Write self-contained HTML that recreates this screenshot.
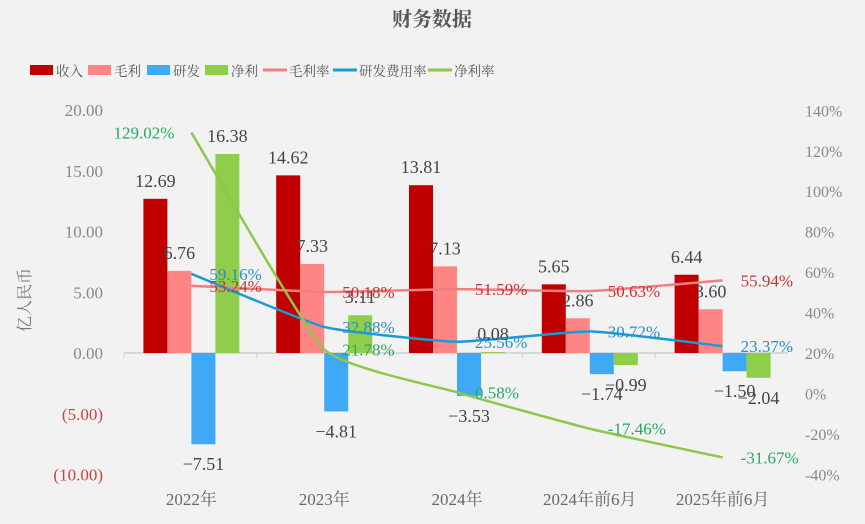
<!DOCTYPE html>
<html><head><meta charset="utf-8">
<style>
body{margin:0;background:#f2f2f2;}
svg{display:block;font-family:"Liberation Serif","Noto Serif CJK SC",serif;}
</style></head>
<body>
<svg id="chart" width="865" height="524" viewBox="0 0 865 524">
<rect width="865" height="524" fill="#f2f2f2"/>
<text x="432" y="26" text-anchor="middle" font-size="20" font-weight="bold" fill="#555">财务数据</text>
<g id="legend"></g>
<g id="axes"></g>
<g id="bars"></g>
<g id="lines"></g>
<g id="labels"></g>
</svg>
<script>
const categories=["2022年","2023年","2024年","2024年前6月","2025年前6月"];
const revenue=[12.69,14.62,13.81,5.65,6.44];
const grossProfit=[6.76,7.33,7.13,2.86,3.60];
const rnd=[-7.51,-4.81,-3.53,-1.74,-1.50];
const netProfit=[16.38,3.11,0.08,-0.99,-2.04];
const grossMargin=[53.24,50.18,51.59,50.63,55.94];
const rndRate=[59.16,32.88,25.56,30.72,23.37];
const netMargin=[129.02,21.78,0.58,-17.46,-31.67];
const leftTicks=[20,15,10,5,0,-5,-10];
const leftTickLabels=["20.00","15.00","10.00","5.00","0.00","(5.00)","(10.00)"];
const rightTicks=[140,120,100,80,60,40,20,0,-20,-40];

const NS="http://www.w3.org/2000/svg";
const svg=document.getElementById('chart');
function el(tag,attrs,parent,text){const e=document.createElementNS(NS,tag);for(const k in attrs)e.setAttribute(k,attrs[k]);if(text!==undefined)e.textContent=text;(parent||svg).appendChild(e);return e;}
const yL=v=>353-v*12.15;
const yR=p=>353-(p-20)*2.022;
const plotL=124,plotR=788,cw=(plotR-plotL)/categories.length;
const xC=i=>plotL+cw*(i+0.5)+1;
const bw=24;
const C={rev:"#c00000",gp:"#ff8585",rd:"#3fa9f5",np:"#8fce4a",gm:"#f08080",rr:"#1a9bd7",nm:"#8cc84b"};

const lg=document.getElementById('legend');
const legendItems=[["收入",C.rev,"box",30],["毛利",C.gp,"box",88],["研发",C.rd,"box",147],["净利",C.np,"box",205],["毛利率",C.gm,"line",263],["研发费用率",C.rr,"line",333],["净利率",C.nm,"line",428]];
legendItems.forEach(it=>{
  const g=el('g',{},lg);
  
  
  if(it[2]==="box")el('rect',{x:it[3],y:65,width:23,height:10,fill:it[1]},g);
  else el('rect',{x:it[3],y:68.5,width:24,height:3,fill:it[1]},g);
  el('text',{x:it[3]+26,y:76,'font-size':13.5,fill:'#555'},g,it[0]);
});

const ax=document.getElementById('axes');

leftTicks.forEach((v,i)=>{
  const t=el('text',{x:103,y:yL(v)+6,'text-anchor':'end','font-size':17,fill:v<0?'#d04040':'#888'},ax,leftTickLabels[i]);
  
});
rightTicks.forEach(v=>{
  const t=el('text',{x:805,y:yR(v)+6,'font-size':16,fill:'#888'},ax,v+'%');
  
});
const yt=el('text',{x:0,y:0,'font-size':16,fill:'#777',transform:'translate(30 300) rotate(-90)','text-anchor':'middle'},ax,'亿人民币');

el('line',{x1:plotL,x2:plotR,y1:yL(0),y2:yL(0),stroke:'#d0d0d0','stroke-width':1.5},ax);
categories.forEach((c,i)=>{
  el('line',{x1:plotL+cw*i,x2:plotL+cw*i,y1:yL(0),y2:yL(0)+5,stroke:'#d0d0d0'},ax);
  const t=el('text',{x:xC(i),y:505,'text-anchor':'middle','font-size':17,fill:'#666'},ax,c);
  
});

const bg=document.getElementById('bars');
const lb=document.getElementById('labels');
const series=[[revenue,C.rev,'revenue'],[grossProfit,C.gp,'gross-profit'],[rnd,C.rd,'rnd'],[netProfit,C.np,'net-profit']];
series.forEach((s,si)=>{
  s[0].forEach((v,i)=>{
    const x=xC(i)-2*bw+si*bw;
    const y0=yL(0),y1=yL(v);
    const r=el('rect',{x:x,y:Math.min(y0,y1),width:bw,height:Math.abs(y1-y0),fill:s[1]},bg);
    
    
    const ly=v>=0?y1-12:y1+26;
    const t=el('text',{x:x+bw/2,y:ly,'text-anchor':'middle','font-size':18,fill:'#444'},lb,(v<0?'−':'')+Math.abs(v).toFixed(2));
    
  });
});

function smooth(pts){
  let d='M'+pts[0][0]+','+pts[0][1];
  for(let i=0;i<pts.length-1;i++){
    const p0=pts[i-1]||pts[i],p1=pts[i],p2=pts[i+1],p3=pts[i+2]||p2,t=0.07;
    d+=' C'+(p1[0]+(p2[0]-p0[0])*t)+','+(p1[1]+(p2[1]-p0[1])*t)+' '+(p2[0]-(p3[0]-p1[0])*t)+','+(p2[1]-(p3[1]-p1[1])*t)+' '+p2[0]+','+p2[1];
  }
  return d;
}
const lnG=document.getElementById('lines');
const lineSeries=[[grossMargin,C.gm,'gross-margin-line','#d03030'],[rndRate,C.rr,'rnd-rate-line','#2a8fc8'],[netMargin,C.nm,'net-margin-line','#2aa860']];
lineSeries.forEach(s=>{
  const pts=s[0].map((v,i)=>[xC(i),yR(v)]);
  const p=el('path',{d:smooth(pts),fill:'none',stroke:s[1],'stroke-width':2.5,'stroke-linejoin':'round'},lnG);
  
  s[0].forEach((v,i)=>{
    let x=xC(i)+18,y=yR(v)+6,anchor='start';
    if(s[2]==='net-margin-line'&&i===0){x=xC(i)-17;anchor='end';}
    const t=el('text',{x:x,y:y,'font-size':17,fill:s[3],'text-anchor':anchor},lb,v.toFixed(2)+'%');
    
  });
});
</script>
</body></html>
